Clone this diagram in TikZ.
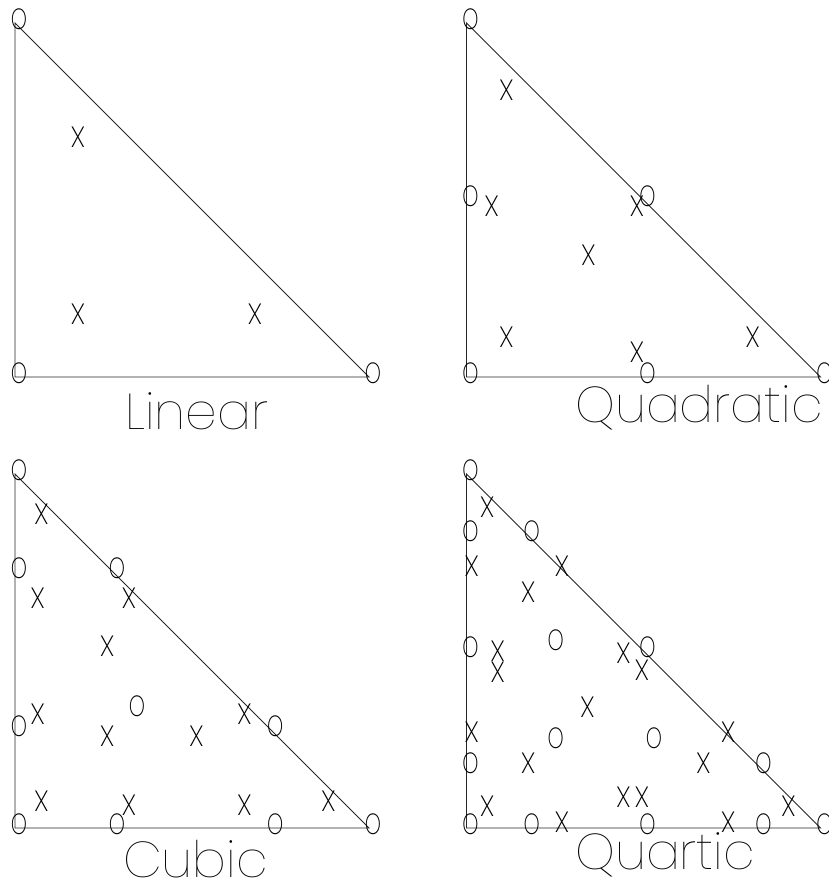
\documentclass[tikz,border=0pt]{standalone}
\usepackage{fontspec}
\newfontfamily\plotfont{Poppins Thin}
\newfontfamily\omarkfont{Poppins ExtraLight}[FakeStretch=0.7]
\newfontfamily\xmarkfont{Poppins ExtraLight}[FakeStretch=0.92]
\usetikzlibrary{positioning}

\begin{document}
\begin{tikzpicture}[
        x=0.03cm, y=0.03cm,
        every node/.style={inner sep=0pt},
        edge/.style={draw=black!85, line width=0.8pt},
        omark/.style={font=\omarkfont\fontsize{25}{25}\selectfont, xshift=0.12cm, yshift=0.12cm},
        xmark/.style={font=\xmarkfont\fontsize{25}{25}\selectfont, xshift=0.12cm, yshift=0.12cm},
        title/.style={font=\plotfont\fontsize{43}{50}\selectfont, anchor=base west},
        panel/.style={x=10.62cm, y=10.62cm}
        ]
    \useasboundingbox (0,0) rectangle (828,889);

    % Linear
    \begin{scope}[shift={(15,512)}, panel]
        \coordinate (lin-a) at (0,0);
        \coordinate (lin-b) at (1,0);
        \coordinate (lin-c) at (0,1);
        \draw[edge] (lin-a) -- (lin-b) -- (lin-c) -- cycle;
        \foreach \p [count=\i] in {lin-a, lin-b, lin-c}
            \node[omark] (lin-o\i) at (\p) {O};
        \foreach \u/\v [count=\i] in {0.1667/0.1667, 0.6667/0.1667, 0.1667/0.6667}
            \node[xmark] (lin-x\i) at (\u,\v) {X};
    \end{scope}
    \node[title] (lin-title) at (125,459) {Linear};

    % Quadratic
    \begin{scope}[shift={(466.5,512)}, panel]
        \coordinate (quad-a) at (0,0);
        \coordinate (quad-b) at (1,0);
        \coordinate (quad-c) at (0,1);
        \draw[edge] (quad-a) -- (quad-b) -- (quad-c) -- cycle;
        \foreach \u/\v [count=\i] in {0/0, 1/0, 0/1, 0.5/0, 0/0.5, 0.5/0.5}
            \node[omark] (quad-o\i) at (\u,\v) {O};
        \foreach \u/\v [count=\i] in {0.3333/0.3333, 0.1013/0.1013, 0.7974/0.1013,
                0.1013/0.7974, 0.4701/0.4701, 0.4701/0.0597, 0.0597/0.4701}
            \node[xmark] (quad-x\i) at (\u,\v) {X};
    \end{scope}
    \node[title] (quad-title) at (575,466) {Quadratic};

    % Cubic
    \begin{scope}[shift={(15,61)}, panel]
        \coordinate (cub-a) at (0,0);
        \coordinate (cub-b) at (1,0);
        \coordinate (cub-c) at (0,1);
        \draw[edge] (cub-a) -- (cub-b) -- (cub-c) -- cycle;
        \foreach \u/\v [count=\i] in {0/0, 1/0, 0/1, 0.2764/0, 0.7236/0, 0/0.2764, 0/0.7236,
                0.7236/0.2764, 0.2764/0.7236, 0.3333/0.3333}
            \node[omark] (cub-o\i) at (\u,\v) {O};
        \foreach \u/\v [count=\i] in {0.0631/0.0631, 0.8738/0.0631, 0.0631/0.8738,
                0.2493/0.2493, 0.5014/0.2493, 0.2493/0.5014,
                0.0531/0.3104, 0.0531/0.6365, 0.3104/0.0531,
                0.6365/0.0531, 0.3104/0.6365, 0.6365/0.3104}
            \node[xmark] (cub-x\i) at (\u,\v) {X};
    \end{scope}
    \node[title] (cub-title) at (123,12) {Cubic};

    % Quartic
    \begin{scope}[shift={(466.5,61)}, panel]
        \coordinate (quart-a) at (0,0);
        \coordinate (quart-b) at (1,0);
        \coordinate (quart-c) at (0,1);
        \draw[edge] (quart-a) -- (quart-b) -- (quart-c) -- cycle;
        \foreach \u/\v [count=\i] in {0/0, 1/0, 0/1, 0.1727/0, 0.5/0, 0.8273/0,
                0/0.1727, 0/0.5, 0/0.8273, 0.8273/0.1727, 0.5/0.5, 0.1727/0.8273,
                0.241/0.241, 0.518/0.241, 0.241/0.518}
            \node[omark] (quart-o\i) at (\u,\v) {O};
        \foreach \u/\v [count=\i] in {0.047/0.896, 0.047/0.049, 0.898/0.049,
                0.163/0.656, 0.163/0.171, 0.658/0.171, 0.330/0.331,
                0.003/0.727, 0.258/0.727, 0.003/0.260, 0.728/0.260, 0.258/0.006, 0.728/0.006,
                0.077/0.487, 0.077/0.430, 0.432/0.482, 0.484/0.433, 0.432/0.077, 0.484/0.077}
            \node[xmark] (quart-x\i) at (\u,\v) {X};
    \end{scope}
    \node[title] (quart-title) at (575,19) {Quartic};
\end{tikzpicture}
\end{document}
